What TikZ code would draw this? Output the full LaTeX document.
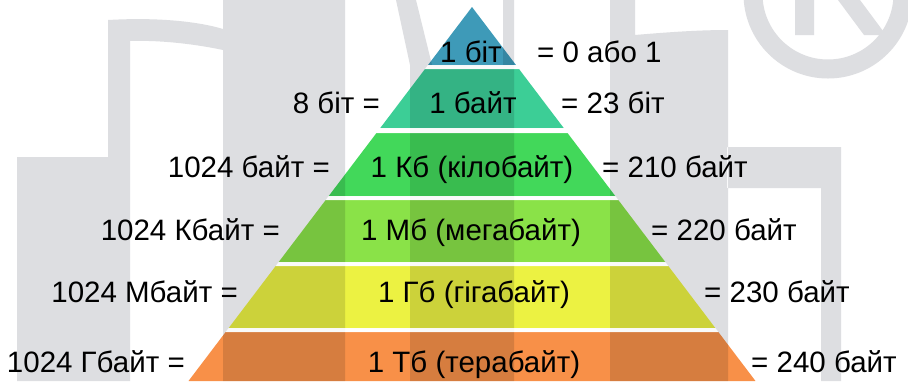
\documentclass[tikz,border=0pt]{standalone}
\usepackage{fontspec}
\setmainfont{Liberation Sans}
\usetikzlibrary{positioning}
\definecolor{wmgray}{RGB}{221,222,225}
\definecolor{lvlA}{RGB}{62,154,184}
\definecolor{lvlB}{RGB}{60,206,150}
\definecolor{lvlC}{RGB}{66,216,90}
\definecolor{lvlD}{RGB}{138,226,72}
\definecolor{lvlE}{RGB}{236,242,66}
\definecolor{lvlF}{RGB}{248,144,72}

\begin{document}
\begin{tikzpicture}[x=1pt, y=-1pt,
    lbl/.style={font=\fontsize{29.5}{35}\selectfont, inner sep=0pt},
    wm/.style={fill=wmgray},
  ]
  \useasboundingbox[fill=white] (0,0) rectangle (908,381);
  % watermark in the background
  \fill[wm] (17,157) rectangle (130,381)
    (108,157) -- (108,20) .. controls (160,17) and (200,22) .. (223,29) -- (223,50)
      .. controls (195,44) and (160,40) .. (130,41) -- (130,157) -- cycle
    (223,0) rectangle (345,381)
    (396,0) -- (416,0) -- (432,65) -- (410,65) -- cycle
    (410,65) rectangle (514,381)
    (503,0) rectangle (514,65)
    (610,0) rectangle (635,381)
    (635,35) .. controls (670,32) and (700,30) .. (728,30) -- (728,381) -- (635,381) -- cycle
    (727,147) rectangle (841,188)
    (821,188) rectangle (841,381)
    (795,0) rectangle (814,35)
    (838,0) -- (860,0) -- (886,35) -- (864,35) -- cycle;
  \draw[wmgray, line width=19pt] (828,-6) circle (75);
  % pyramid levels
  \begin{scope}[blend mode=multiply]
    \foreach \ya/\yb/\col in {7/65/lvlA, 69/128/lvlB, 133/196/lvlC, 200/262/lvlD, 266/328/lvlE, 332/381/lvlF}
      \fill[\col] ({472-0.758*(\ya-7)},\ya) -- ({472+0.758*(\ya-7)},\ya)
        -- ({472+0.758*(\yb-7)},\yb) -- ({472-0.758*(\yb-7)},\yb) -- cycle;
  \end{scope}
  \foreach \ya/\yb in {65/69, 128/133, 196/200, 262/266, 328/332}
    \fill[white, opacity=0.85] ({472-0.758*(\ya-7)},\ya) -- ({472+0.758*(\ya-7)},\ya)
      -- ({472+0.758*(\yb-7)},\yb) -- ({472-0.758*(\yb-7)},\yb) -- cycle;
  % level names
  \node[lbl, anchor=base] (bit)  at (471,62)  {1 біт};
  \node[lbl, anchor=base] (byte) at (473,113) {1 байт};
  \node[lbl, anchor=base] (kb)   at (472,177) {1 Кб (кілобайт)};
  \node[lbl, anchor=base] (mb)   at (471,240) {1 Мб (мегабайт)};
  \node[lbl, anchor=base] (gb)   at (474,302) {1 Гб (гігабайт)};
  \node[lbl, anchor=base] (tb)   at (474,372) {1 Тб (терабайт)};
  % left side
  \node[lbl, anchor=base east] (byteL) at (380,113) {8 біт =};
  \node[lbl, anchor=base east] (kbL)   at (330,177) {1024 байт =};
  \node[lbl, anchor=base east] (mbL)   at (280,240) {1024 Кбайт =};
  \node[lbl, anchor=base east] (gbL)   at (238,302) {1024 Мбайт =};
  \node[lbl, anchor=base east] (tbL)   at (185,372) {1024 Гбайт =};
  % right side
  \node[lbl, anchor=base west] (bitR)  at (537,62)  {= 0 або 1};
  \node[lbl, anchor=base west] (byteR) at (561,113) {= 23 біт};
  \node[lbl, anchor=base west] (kbR)   at (602,177) {= 210 байт};
  \node[lbl, anchor=base west] (mbR)   at (651,240) {= 220 байт};
  \node[lbl, anchor=base west] (gbR)   at (704,302) {= 230 байт};
  \node[lbl, anchor=base west] (tbR)   at (751,372) {= 240 байт};
\end{tikzpicture}
\end{document}
